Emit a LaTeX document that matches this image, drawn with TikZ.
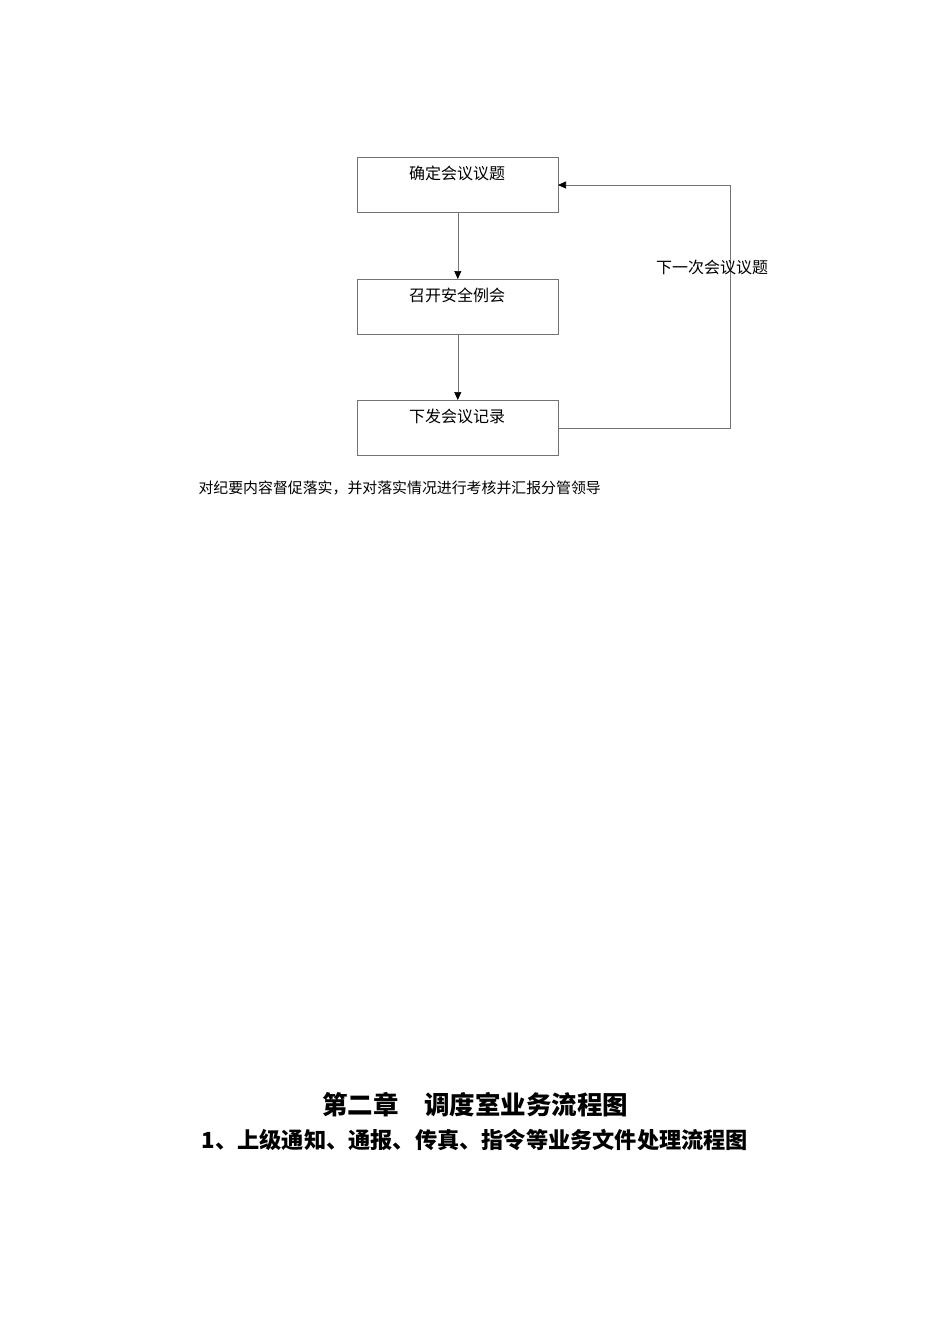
\documentclass[tikz,border=0pt]{standalone}
\usepackage{fontspec}
\setmainfont{Noto Sans CJK SC}
\usetikzlibrary{arrows.meta}
\begin{document}
\begin{tikzpicture}[x=1pt,y=-1pt,
 box/.style={draw=black!55,line width=0.6pt,minimum width=201pt,minimum height=55pt,anchor=north west},
 lbl/.style={font=\fontsize{16}{18}\selectfont},
 arr/.style={draw=black!55,line width=0.6pt,-{Triangle[length=8pt,width=7pt,fill=black,color=black]}}]
\useasboundingbox (0,0) rectangle (950,1344);
\node[box] (b1) at (357,157) {};
\node[box] (b2) at (357,279) {};
\node[box] (b3) at (357,400) {};
\node[lbl] (t1) at (457,173) {确定会议议题};
\node[lbl] (t2) at (457,295) {召开安全例会};
\node[lbl] (t3) at (457,416) {下发会议记录};
\draw[arr] (b1.south) -- (b2.north);
\draw[arr] (b2.south) -- (b3.north);
\coordinate (c1) at (730,428);
\coordinate (c2) at (730,185);
\coordinate (e3) at (558,428);
\coordinate (e1) at (558,185);
\draw[arr] (e3) -- (c1) -- (c2) -- (e1);
\node[lbl] (fb) at (712,267) {下一次会议议题};
\node[font=\fontsize{14.9}{17}\selectfont,anchor=west] (note) at (195,488) {对纪要内容督促落实，并对落实情况进行考核并汇报分管领导};
\node[font=\fontsize{25.5}{29}\selectfont\bfseries] (h1) at (475,1105) {第二章　调度室业务流程图};
\node[font=\fontsize{22.2}{26}\selectfont\bfseries] (h2) at (475,1140) {1、上级通知、通报、传真、指令等业务文件处理流程图};
\end{tikzpicture}
\end{document}
